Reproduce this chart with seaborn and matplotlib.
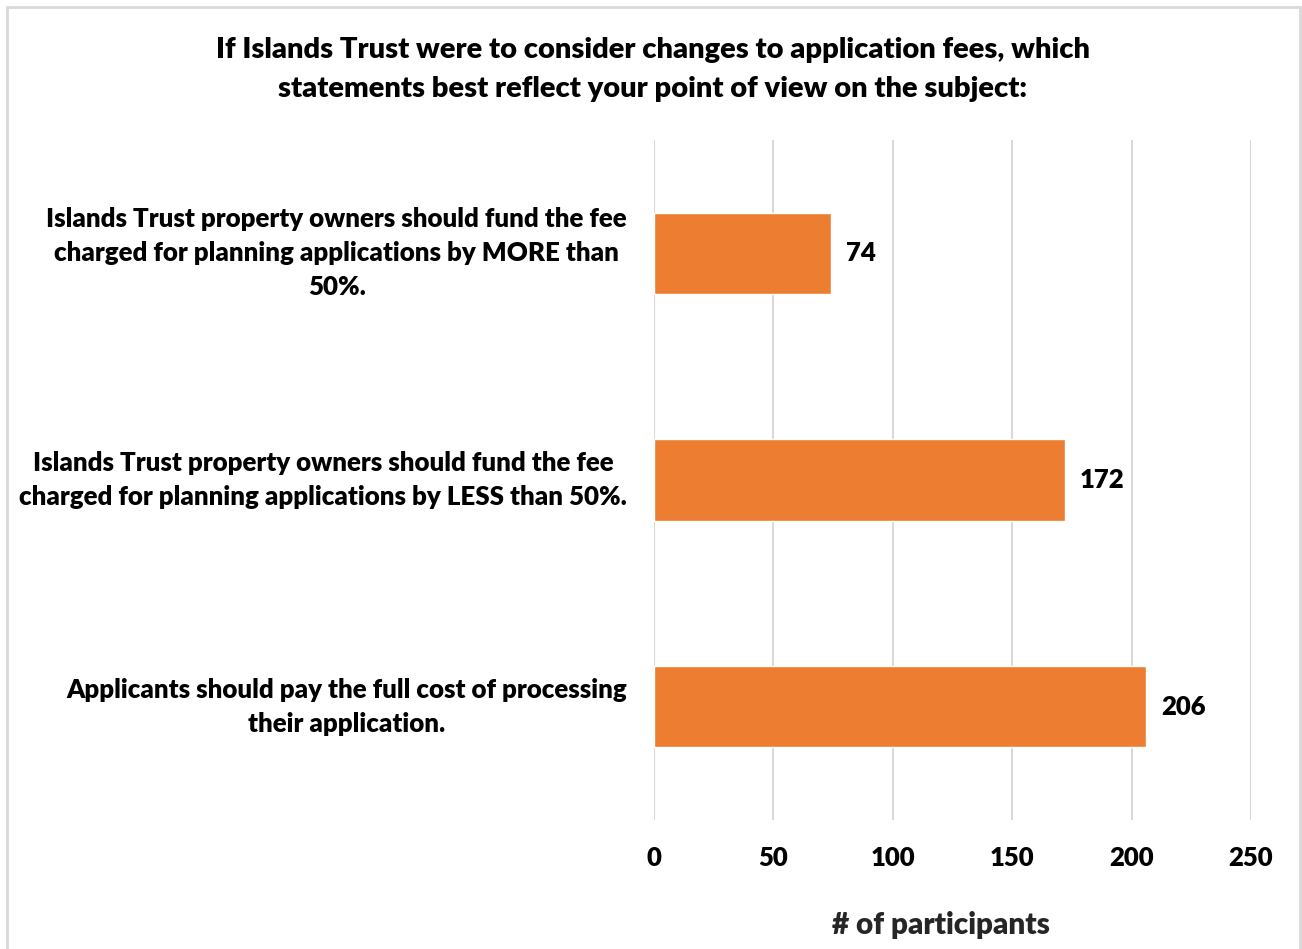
import matplotlib
matplotlib.use("Agg")
import matplotlib.pyplot as plt
from matplotlib.patches import Rectangle
import seaborn as sns
import pandas as pd

# ----------------------------------------------------------
# Donnees
# ----------------------------------------------------------
statements = [
    "Islands Trust property owners should fund the fee\ncharged for planning applications by MORE than\n50%.",
    "Islands Trust property owners should fund the fee\ncharged for planning applications by LESS than 50%.",
    "Applicants should pay the full cost of processing\ntheir application.",
]
participants = [74, 172, 206]
x_ticks = [0, 50, 100, 150, 200, 250]

title = ("If Islands Trust were to consider changes to application fees, which\n"
         "statements best reflect your point of view on the subject:")

df = pd.DataFrame({"statement": statements, "participants": participants})

# ----------------------------------------------------------
# Style
# ----------------------------------------------------------
sns.set_style("white")
plt.rcParams["font.family"] = ["Lato", "DejaVu Sans"]
plt.rcParams["text.color"] = "black"
plt.rcParams["xtick.color"] = "black"
plt.rcParams["ytick.color"] = "black"

W = 800  # poids de police (Lato Heavy ~ Calibri gras)
orange = "#ED7D31"
grid_col = "#D9D9D9"

fig = plt.figure(figsize=(13.02, 9.49), dpi=100)
ax = fig.add_axes([654 / 1302, 1 - 820 / 949, (1251 - 654) / 1302, (820 - 140) / 949])

sns.barplot(data=df, x="participants", y="statement", color=orange,
            width=0.36, saturation=1, ax=ax, zorder=3)

ax.set_xlim(0, 250)
ax.set_xticks(x_ticks)
ax.set_ylim(2.5, -0.5)
ax.grid(axis="x", color=grid_col, linewidth=1.5, zorder=0)
for s in ax.spines.values():
    s.set_visible(False)
ax.tick_params(axis="both", length=0)
ax.tick_params(axis="x", pad=18.5, labelsize=18.5)
ax.tick_params(axis="y", pad=19.5, labelsize=18.6)
for lbl in ax.get_yticklabels():
    lbl.set_multialignment("center")
    lbl.set_verticalalignment("center")
    lbl.set_linespacing(1.5)
    lbl.set_fontweight(W)
for lbl in ax.get_xticklabels():
    lbl.set_fontweight(W)

ax.set_ylabel("")
ax.set_xlabel("# of participants", fontsize=21.3, fontweight=W, va="center")
ax.xaxis.set_label_coords((941 - 654) / 597, (820 - 925) / 680)

# etiquettes de valeurs
for container in ax.containers:
    ax.bar_label(container, padding=11, fontsize=18.5, fontweight=W)

fig.text(0.5015, 1 - 69.5 / 949, title, ha="center", va="center",
         fontsize=21, fontweight=W, linespacing=1.6)

# cadre autour du graphique
fig.patches.append(Rectangle((7 / 1302, -0.05), (1300 - 7) / 1302, 1.05 - 7 / 949,
                             transform=fig.transFigure, fill=False,
                             edgecolor=grid_col, linewidth=2))

fig.savefig("out.png", dpi=100)
plt.close()
